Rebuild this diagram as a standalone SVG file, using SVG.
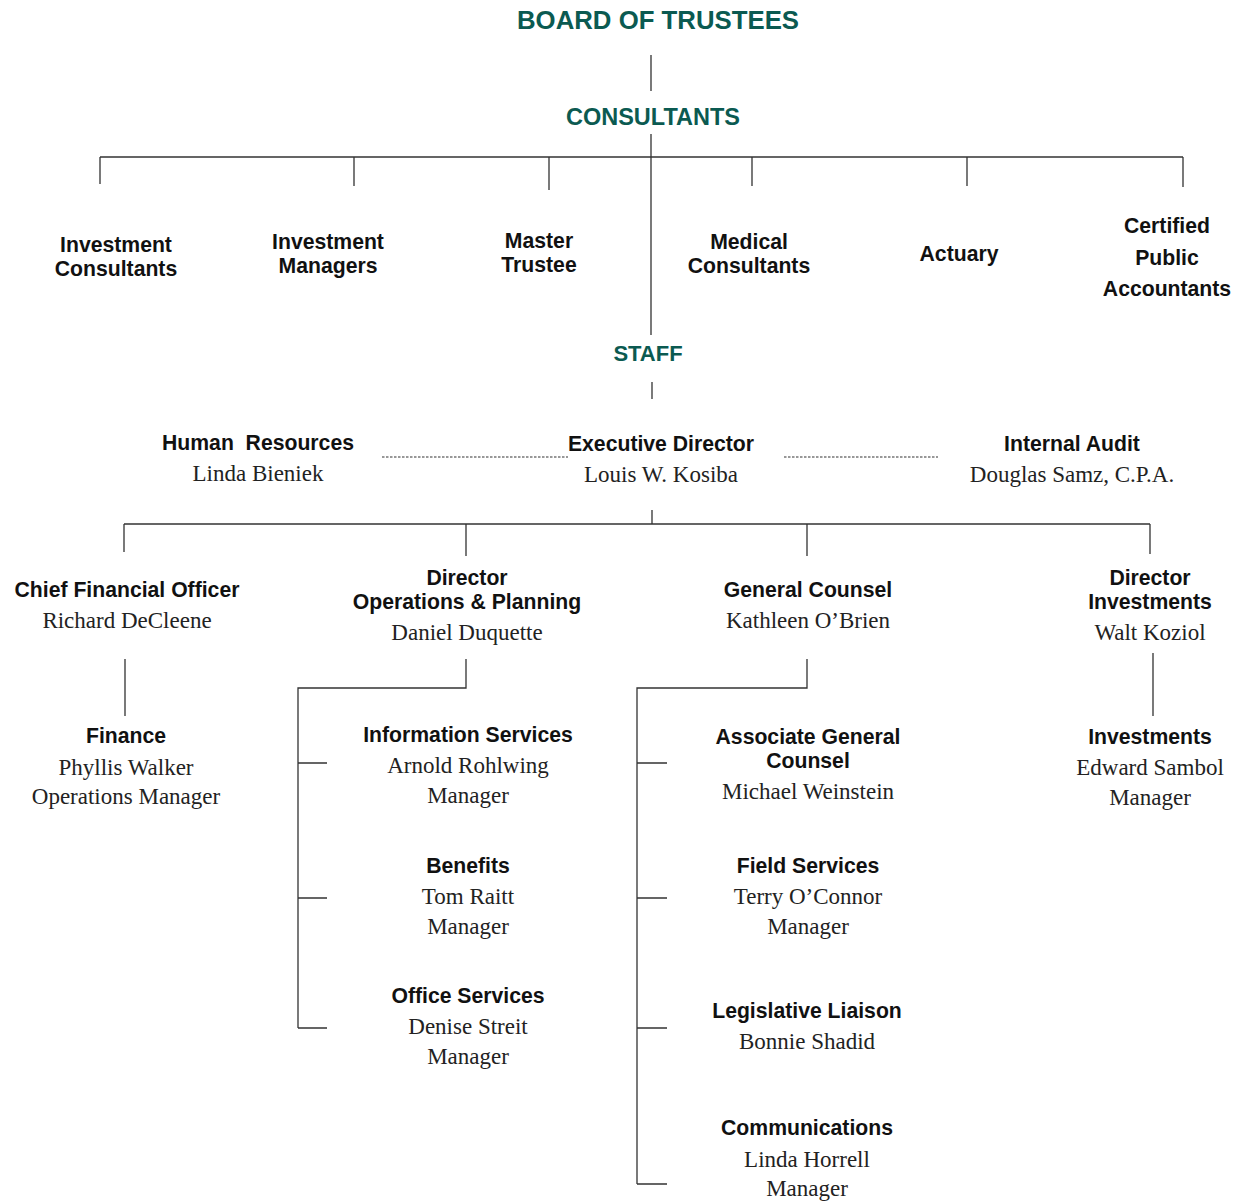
<svg xmlns="http://www.w3.org/2000/svg" width="1237" height="1201" viewBox="0 0 1237 1201">
<style>
.h{font-family:"Liberation Sans",Arial,sans-serif;font-weight:bold;fill:#0b5a51;text-anchor:middle}
.b{font-family:"Liberation Sans",Arial,sans-serif;font-weight:bold;font-size:21.2px;fill:#111;text-anchor:middle}
.s{font-family:"Liberation Serif","Times New Roman",serif;font-size:23px;fill:#222;text-anchor:middle}
.ln{stroke:#333;stroke-width:1.3;fill:none}
.dash{stroke:#333;stroke-width:1.2;stroke-dasharray:2.5 1.5;fill:none}
</style>
<rect width="1237" height="1201" fill="#fff"/>
<g id="connectors">
<path class="ln" d="M651 55V91 M651 134V335 M100 157H1183 M100 157V184 M354 157V186 M549 157V190 M752 157V186 M967 157V186 M1183 157V187"/>
<path class="ln" d="M652 382V399"/>
<path class="dash" d="M382 457H568 M784 457H938"/>
<path class="ln" d="M652 510V524 M124 524H1150 M124 524V552 M466 524V556 M807 524V556 M1150 524V554"/>
<path class="ln" d="M125 659V716 M1153 653V716"/>
<path class="ln" d="M466 659V688H298V1028 M298 763H327 M298 898H327 M298 1028H327"/>
<path class="ln" d="M807 659V688H637V1184 M637 763H667 M637 898H667 M637 1028H667 M637 1184H667"/>
</g>
<g id="board"><text class="h" x="658" y="29" font-size="25" textLength="282" lengthAdjust="spacingAndGlyphs">BOARD OF TRUSTEES</text></g>
<g id="consultants"><text class="h" x="653" y="125" font-size="23.5">CONSULTANTS</text></g>
<g id="investment-consultants"><text class="b" x="116" y="252">Investment</text><text class="b" x="116" y="276">Consultants</text></g>
<g id="investment-managers"><text class="b" x="328" y="249">Investment</text><text class="b" x="328" y="273">Managers</text></g>
<g id="master-trustee"><text class="b" x="539" y="248">Master</text><text class="b" x="539" y="272">Trustee</text></g>
<g id="medical-consultants"><text class="b" x="749" y="249">Medical</text><text class="b" x="749" y="273">Consultants</text></g>
<g id="actuary"><text class="b" x="959" y="261">Actuary</text></g>
<g id="cpa"><text class="b" x="1167" y="233">Certified</text><text class="b" x="1167" y="265">Public</text><text class="b" x="1167" y="296">Accountants</text></g>
<g id="staff"><text class="h" x="648" y="361" font-size="22">STAFF</text></g>
<g id="human-resources"><text class="b" x="258" y="450" xml:space="preserve">Human  Resources</text><text class="s" x="258" y="481">Linda Bieniek</text></g>
<g id="executive-director"><text class="b" x="661" y="451">Executive Director</text><text class="s" x="661" y="482">Louis W. Kosiba</text></g>
<g id="internal-audit"><text class="b" x="1072" y="451">Internal Audit</text><text class="s" x="1072" y="482">Douglas Samz, C.P.A.</text></g>
<g id="cfo"><text class="b" x="127" y="597">Chief Financial Officer</text><text class="s" x="127" y="628">Richard DeCleene</text></g>
<g id="director-operations"><text class="b" x="467" y="585">Director</text><text class="b" x="467" y="609">Operations &amp; Planning</text><text class="s" x="467" y="640">Daniel Duquette</text></g>
<g id="general-counsel"><text class="b" x="808" y="597">General Counsel</text><text class="s" x="808" y="628">Kathleen O’Brien</text></g>
<g id="director-investments"><text class="b" x="1150" y="585">Director</text><text class="b" x="1150" y="609">Investments</text><text class="s" x="1150" y="640">Walt Koziol</text></g>
<g id="finance"><text class="b" x="126" y="743">Finance</text><text class="s" x="126" y="775">Phyllis Walker</text><text class="s" x="126" y="804">Operations Manager</text></g>
<g id="information-services"><text class="b" x="468" y="742">Information Services</text><text class="s" x="468" y="773">Arnold Rohlwing</text><text class="s" x="468" y="803">Manager</text></g>
<g id="benefits"><text class="b" x="468" y="873">Benefits</text><text class="s" x="468" y="904">Tom Raitt</text><text class="s" x="468" y="934">Manager</text></g>
<g id="office-services"><text class="b" x="468" y="1003">Office Services</text><text class="s" x="468" y="1034">Denise Streit</text><text class="s" x="468" y="1064">Manager</text></g>
<g id="associate-general-counsel"><text class="b" x="808" y="744">Associate General</text><text class="b" x="808" y="768">Counsel</text><text class="s" x="808" y="799">Michael Weinstein</text></g>
<g id="field-services"><text class="b" x="808" y="873">Field Services</text><text class="s" x="808" y="904">Terry O’Connor</text><text class="s" x="808" y="934">Manager</text></g>
<g id="legislative-liaison"><text class="b" x="807" y="1018">Legislative Liaison</text><text class="s" x="807" y="1049">Bonnie Shadid</text></g>
<g id="communications"><text class="b" x="807" y="1135">Communications</text><text class="s" x="807" y="1167">Linda Horrell</text><text class="s" x="807" y="1196">Manager</text></g>
<g id="investments"><text class="b" x="1150" y="744">Investments</text><text class="s" x="1150" y="775">Edward Sambol</text><text class="s" x="1150" y="805">Manager</text></g>
</svg>
